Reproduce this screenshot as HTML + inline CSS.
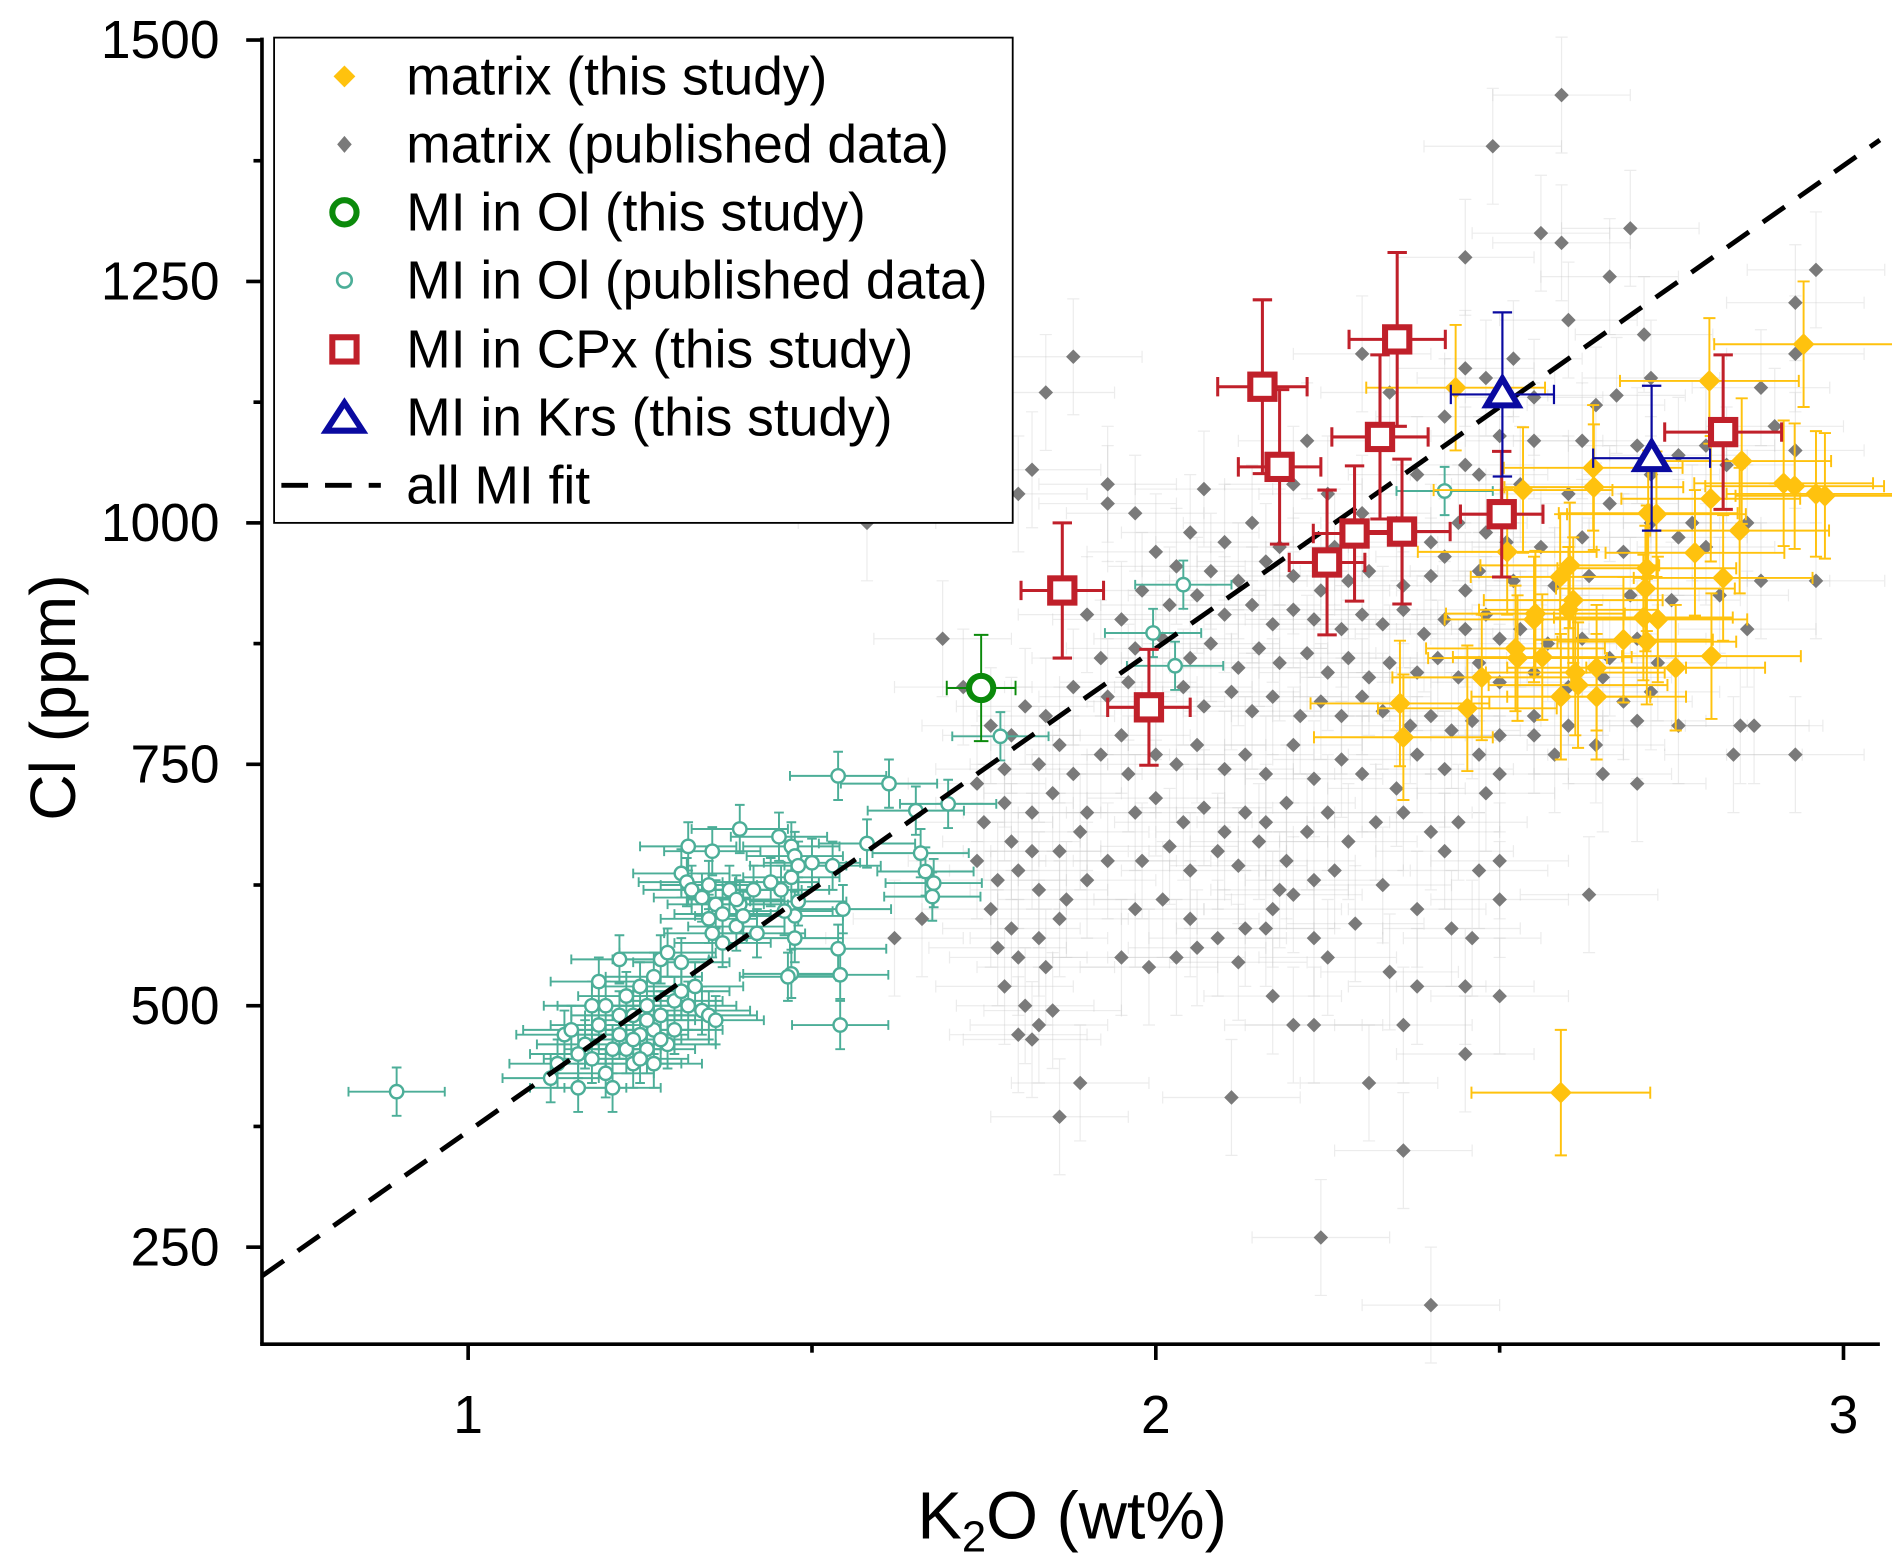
<!DOCTYPE html>
<html><head><meta charset="utf-8">
<style>
html,body{margin:0;padding:0;background:#fff;}
svg{display:block;font-family:"Liberation Sans",Arial,sans-serif;}
</style></head>
<body>
<svg id="chart" width="1892" height="1565" viewBox="0 0 1560 1290" preserveAspectRatio="none" xmlns="http://www.w3.org/2000/svg">
<g id="grayErr"></g>
<g id="grayPts"></g>
<g id="tealG"></g>
<g id="goldG"></g>
<g id="fitG"></g>
<g id="greenG"></g>
<g id="redG"></g>
<g id="blueG"></g>
<g id="axesG"></g>
<text transform="translate(62,575) rotate(-90)" text-anchor="middle" font-size="53" fill="#000">Cl (ppm)</text>
<text x="884" y="1268" text-anchor="middle" font-size="55" fill="#000">K<tspan font-size="36" dy="11">2</tspan><tspan dy="-11">O (wt%)</tspan></text>
<g font-size="44">
<rect x="226" y="31" width="609" height="400" fill="#fff" stroke="#000" stroke-width="1.5"/>
<g><path d="M284 54 L293 63 L284 72 L275 63Z" fill="#FFC20E"/><text x="335" y="78">matrix (this study)</text></g>
<g><path d="M284 112 L290 119 L284 126 L278 119Z" fill="#7a7a7a"/><text x="335" y="134">matrix (published data)</text></g>
<g><circle cx="284" cy="175" r="10" fill="#fff" stroke="#0b8a0b" stroke-width="5"/><text x="335" y="190">MI in Ol (this study)</text></g>
<g><circle cx="284" cy="231" r="6" fill="#fff" stroke="#4cae98" stroke-width="2.2"/><text x="335" y="246">MI in Ol (published data)</text></g>
<g><rect x="274" y="278" width="20" height="20" fill="#fff" stroke="#c0202a" stroke-width="5"/><text x="335" y="303">MI in CPx (this study)</text></g>
<g><path d="M284 332 L299 355 L269 355Z" fill="#fff" stroke="#0a0aa0" stroke-width="5" stroke-linejoin="miter"/><text x="335" y="359">MI in Krs (this study)</text></g>
<g><line x1="232" y1="400" x2="314" y2="400" stroke="#000" stroke-width="4" stroke-dasharray="22,14"/><text x="335" y="415">all MI fit</text></g>
</g>
</svg>
<script>
const xTicks=[1,2,3];
const yTicks=[250,500,750,1000,1250,1500];
const fitSlope=500, fitIntercept=-130;
const redX=[1.864,1.99,2.155,2.18,2.249,2.289,2.326,2.351,2.358,2.503,2.825];
const redY=[930,809,1141,1058,959,989,1089,1190,991,1009,1094];
const redXe=[0.06,0.06,0.065,0.06,0.055,0.06,0.07,0.07,0.07,0.06,0.085];
const redYe=[70,60,90,80,75,70,85,90,75,65,80];
const blueX=[2.504,2.721];
const blueY=[1133,1067];
const blueXe=[0.075,0.085];
const blueYe=[85,75];
const greenX=[1.746];const greenY=[829];const greenXe=[0.05];const greenYe=[55];
const tealPts=[[0.896,411],[1.774,779],[1.996,886],[2.028,852],[2.04,936],[2.42,1033],
[1.538,738],[1.612,730],[1.651,702],[1.698,709],[1.58,668],[1.658,658],[1.665,639],[1.677,627],[1.675,613],
[1.538,559],[1.541,480],[1.541,532],[1.47,533],[1.465,530],[1.475,570],
[1.395,683],[1.452,675],[1.47,665],[1.475,655],[1.48,645],[1.50,648],[1.53,645],[1.545,600],[1.475,593],[1.46,598],[1.48,608],[1.455,620],[1.44,628],[1.47,633],
[1.32,665],[1.355,660],[1.31,637],[1.318,628],[1.325,620],[1.34,612],[1.36,605],[1.37,595],[1.35,590],[1.39,582],[1.38,620],[1.395,605],[1.40,593],[1.355,575],[1.37,565],[1.42,575],[1.39,610],[1.35,625],[1.415,620],
[1.12,425],[1.13,440],[1.14,470],[1.15,475],[1.17,460],[1.18,445],[1.16,415],[1.21,415],[1.19,525],[1.22,548],[1.20,500],[1.23,510],[1.24,490],[1.25,470],[1.26,455],[1.27,440],[1.22,470],[1.21,455],[1.19,480],[1.18,500],[1.23,455],[1.24,440],[1.25,520],[1.27,530],[1.28,548],[1.29,555],[1.30,505],[1.31,515],[1.32,500],[1.33,520],[1.34,495],[1.35,490],[1.36,485],[1.30,475],[1.29,460],[1.28,490],[1.26,500],[1.31,545],[1.27,475],[1.25,445],[1.2,430],[1.16,450],[1.22,490],[1.24,465],[1.26,485],[1.28,465]];
const goldPts=[[2.436,1140],[2.942,1185],[2.805,1147],[2.636,1057],[2.637,1037],[2.534,1034],[2.716,1010],[2.852,1064],[2.913,1041],[2.96,1030],[2.807,1025],[2.849,992],[2.784,969],[2.511,970],[2.825,943],[2.602,956],[2.588,944],[2.714,953],[2.712,932],[2.607,920],[2.552,906],[2.55,900],[2.6,910],[2.709,902],[2.73,900],[2.68,879],[2.714,877],[2.523,870],[2.562,861],[2.526,860],[2.641,850],[2.756,850],[2.808,862],[2.474,840],[2.61,845],[2.614,832],[2.589,820],[2.641,820],[2.453,808],[2.355,813],[2.36,778],[2.589,410],[2.728,1009],[2.973,1028],[2.929,1038]];
const grayPts=[[2.59,1443],[2.49,1390],[2.56,1300],[2.59,1290],[2.69,1305],[2.45,1275],[2.96,1262],[2.66,1255],[2.93,1228],[2.71,1195],[2.6,1210],[2.72,1150],[2.3,1175],[2.45,1160],[2.52,1170],[2.48,1150],[2.55,1130],[2.64,1122],[2.67,1132],[2.88,1140],[2.93,1175],[1.88,1172],[1.84,1135],[2.22,1085],[2.34,1135],[2.42,1110],[2.50,1090],[2.55,1085],[2.62,1085],[2.70,1080],[2.76,1070],[2.8,1080],[2.83,1060],[2.93,1075],[2.86,1000],[2.9,1100],[1.82,1055],[1.8,1030],[1.93,1040],[1.93,1020],[2.07,1035],[2.20,1040],[2.25,1030],[2.38,1050],[2.45,1060],[2.47,1050],[2.53,1040],[2.6,1030],[2.66,1020],[2.72,1050],[2.78,1000],[2.3,1010],[2.35,1000],[1.58,1000],[1.97,1010],[2.05,990],[2.1,980],[2.14,1000],[2.18,975],[2.26,975],[2.40,980],[2.42,965],[2.44,1000],[2.48,990],[2.51,980],[2.56,975],[2.62,985],[2.68,970],[2.72,1000],[2.76,985],[2.8,975],[2.88,940],[2.96,940],[2.0,970],[2.03,955],[2.08,950],[2.12,940],[2.16,960],[2.2,945],[2.24,930],[2.28,940],[2.31,950],[2.36,935],[2.40,945],[2.45,930],[2.47,950],[2.52,940],[2.58,935],[2.63,945],[2.69,925],[2.75,920],[2.82,925],[2.86,890],[2.85,790],[2.84,760],
[1.90,905],[1.95,900],[1.98,930],[2.02,915],[2.06,925],[2.1,905],[2.14,915],[2.17,895],[2.2,910],[2.23,900],[2.27,890],[2.3,905],[2.33,895],[2.36,910],[2.39,885],[2.42,900],[2.45,890],[2.48,905],[2.5,880],[2.53,890],[2.57,875],[2.62,880],[2.66,860],[2.7,880],[2.73,855],[1.92,860],[1.97,870],[2.01,880],[2.05,860],[2.08,875],[2.12,850],[2.15,870],[2.18,855],[2.22,865],[2.25,845],[2.28,860],[2.31,840],[2.34,855],[2.38,845],[2.41,860],[2.44,840],[2.47,855],[2.5,835],[2.55,845],[2.6,830],[2.65,840],[2.68,815],[2.72,825],[1.88,830],[1.93,820],[1.96,835],[2.0,815],[2.04,830],[2.07,810],[2.11,825],[2.14,805],[2.17,820],[2.21,800],[2.24,815],[2.27,800],[2.3,820],[2.33,805],[2.37,790],[2.4,800],[2.43,785],[2.46,795],[2.5,780],[2.55,800],[2.6,790],[2.64,770],[2.7,795],[2.76,790],
[1.69,880],[1.72,830],[1.76,790],[1.79,780],[1.81,810],[1.84,800],[1.86,770],[1.83,750],[1.78,745],[1.74,730],[1.78,710],[1.82,700],[1.85,720],[1.88,740],[1.9,700],[1.92,760],[1.95,780],[1.75,690],[1.79,670],[1.82,660],[1.86,660],[1.89,680],[1.74,650],[1.77,630],[1.8,640],[1.83,620],[1.87,610],[1.9,630],[1.93,650],[1.76,600],[1.79,580],[1.83,570],[1.86,590],[1.77,560],[1.8,550],[1.84,540],[1.78,520],[1.81,500],[1.83,480],[1.80,470],[1.82,465],[1.85,495],[1.86,385],[1.89,420],[1.66,590],[1.62,570],
[1.96,740],[2.0,760],[2.03,750],[2.06,770],[2.1,745],[2.13,760],[2.16,740],[2.2,770],[2.23,735],[2.27,755],[2.3,740],[2.35,725],[2.38,760],[2.42,745],[2.47,760],[2.5,740],[1.97,700],[2.0,715],[2.04,690],[2.07,705],[2.1,680],[2.13,700],[2.16,690],[2.19,710],[2.22,680],[2.25,700],[2.28,670],[2.32,690],[2.36,700],[2.4,680],[2.44,690],[2.48,720],[1.98,650],[2.02,665],[2.05,640],[2.09,660],[2.12,645],[2.15,670],[2.19,650],[2.23,630],[2.18,620],[2.2,615],[2.26,640],[2.33,625],[2.42,660],[2.47,640],[2.5,650],[2.5,610],[1.97,600],[2.01,610],[2.05,590],[2.09,570],[2.13,580],[2.17,600],[2.23,570],[2.29,585],[2.38,600],[2.43,580],[2.46,570],[2.63,615],[1.95,550],[1.99,540],[2.03,550],[2.06,560],[2.12,545],[2.16,580],[2.25,550],[2.34,535],[2.38,520],[2.45,520],[2.5,510],[2.17,510],[2.2,480],[2.23,480],[2.36,480],[2.45,450],[2.11,405],[2.31,420],[2.36,350],[2.24,260],[2.4,190],[2.93,760],[2.87,790],[2.7,730],[2.65,740],[2.58,760],[2.55,780]];

const NS='http://www.w3.org/2000/svg';
const X0=216,X1=1550,Y0=33,Y1=1108;
function sx(v){return 386+(v-1)*567;}
function sy(v){return 1028-(v-250)*0.796;}
function mk(tag,parent,attrs){const e=document.createElementNS(NS,tag);for(const k in attrs)e.setAttribute(k,attrs[k]);parent.appendChild(e);return e;}
function errBar(g,x,y,xe,ye,color,w,cap){
  const p=`M${sx(x-xe)} ${sy(y)}H${sx(x+xe)}M${sx(x)} ${sy(y-ye)}V${sy(y+ye)}`+
   `M${sx(x-xe)} ${sy(y)-cap}V${sy(y)+cap}M${sx(x+xe)} ${sy(y)-cap}V${sy(y)+cap}`+
   `M${sx(x)-cap} ${sy(y-ye)}H${sx(x)+cap}M${sx(x)-cap} ${sy(y+ye)}H${sx(x)+cap}`;
  const e=mk('path',g,{d:p,stroke:color,'stroke-width':w,fill:'none'});
  
  
}
const ge=document.getElementById('grayErr'),gp=document.getElementById('grayPts');
grayPts.forEach(p=>{
  errBar(ge,p[0],p[1],0.1,60,'rgba(200,200,200,0.35)',1,5);
  const c=mk('path',gp,{d:`M${sx(p[0])} ${sy(p[1])-6}l6 6l-6 6l-6 -6Z`,fill:'#7a7a7a'});
  
  
});
const tg=document.getElementById('tealG');
tealPts.forEach(p=>{errBar(tg,p[0],p[1],0.07,25,'#4cae98',1.6,4);});
tealPts.forEach(p=>{
  const c=mk('circle',tg,{cx:sx(p[0]),cy:sy(p[1]),r:5.5,fill:'#fff',stroke:'#4cae98','stroke-width':2});
  
  
});
const gg=document.getElementById('goldG');
goldPts.forEach(p=>{errBar(gg,p[0],p[1],0.13,65,'#FFC20E',1.6,5);});
goldPts.forEach(p=>{
  const c=mk('path',gg,{d:`M${sx(p[0])} ${sy(p[1])-9}l9 9l-9 9l-9 -9Z`,fill:'#FFC20E'});
  
  
});
const fg=document.getElementById('fitG');
const fx0=(X0-386)/567+1, fx1=(X1-386)/567+1;
const fl=mk('line',fg,{x1:sx(fx0),y1:sy(fitSlope*fx0+fitIntercept),x2:sx(fx1),y2:sy(fitSlope*fx1+fitIntercept),stroke:'#000','stroke-width':4,'stroke-dasharray':'22,14'});


const grg=document.getElementById('greenG');
greenX.forEach((x,i)=>{
  errBar(grg,x,greenY[i],greenXe[i],greenYe[i],'#0b8a0b',1.6,6);
  const c=mk('circle',grg,{cx:sx(x),cy:sy(greenY[i]),r:10,fill:'#fff',stroke:'#0b8a0b','stroke-width':5});
  
  
});
const rg=document.getElementById('redG');
redX.forEach((x,i)=>{errBar(rg,x,redY[i],redXe[i],redYe[i],'#c0202a',2.5,8);});
redX.forEach((x,i)=>{
  const c=mk('rect',rg,{x:sx(x)-10,y:sy(redY[i])-10,width:20,height:20,fill:'#fff',stroke:'#c0202a','stroke-width':5});
  
  
});
const bg=document.getElementById('blueG');
blueX.forEach((x,i)=>{
  errBar(bg,x,blueY[i],blueXe[i],blueYe[i],'#0a0aa0',1.8,8);
  const cx=sx(x),cy=sy(blueY[i]);
  const c=mk('path',bg,{d:`M${cx} ${cy-13}L${cx+13} ${cy+9}L${cx-13} ${cy+9}Z`,fill:'#fff',stroke:'#0a0aa0','stroke-width':5});
  
  
});
const ag=document.getElementById('axesG');
const yl=mk('line',ag,{x1:X0,y1:Y0-2,x2:X0,y2:Y1,stroke:'#000','stroke-width':3});


const xl=mk('line',ag,{x1:X0-1.5,y1:Y1,x2:X1,y2:Y1,stroke:'#000','stroke-width':3});


yTicks.forEach(v=>{
  const t=mk('line',ag,{x1:X0-13,y1:sy(v),x2:X0,y2:sy(v),stroke:'#000','stroke-width':3});
  
  
  if(v>250){const m=mk('line',ag,{x1:X0-7,y1:sy(v-125),x2:X0,y2:sy(v-125),stroke:'#000','stroke-width':3});
  
  }
  const l=mk('text',ag,{x:X0-35,y:sy(v)+15,'text-anchor':'end','font-size':44});
  l.textContent=v;
  
  
});
xTicks.forEach(v=>{
  const t=mk('line',ag,{x1:sx(v),y1:Y1,x2:sx(v),y2:Y1+13,stroke:'#000','stroke-width':3});
  
  
  if(v<3){const m=mk('line',ag,{x1:sx(v+0.5),y1:Y1,x2:sx(v+0.5),y2:Y1+7,stroke:'#000','stroke-width':3});
  
  }
  const l=mk('text',ag,{x:sx(v),y:Y1+73,'text-anchor':'middle','font-size':44});
  l.textContent=v;
  
  
});
</script>
</body></html>
